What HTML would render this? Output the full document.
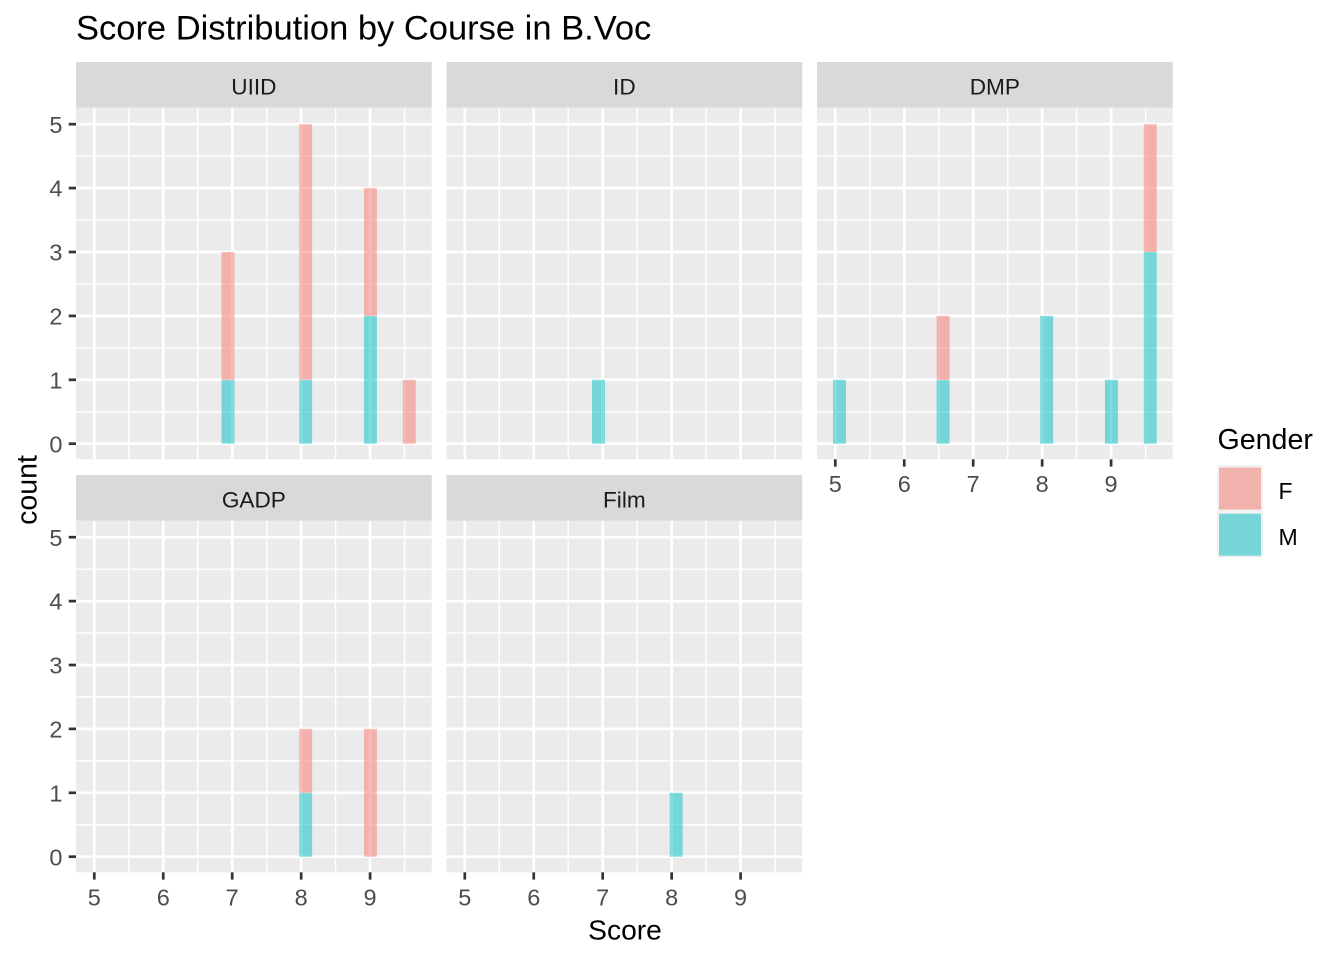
<!DOCTYPE html>
<html>
<head>
<meta charset="utf-8">
<style>
  html, body { margin:0; padding:0; background:#ffffff; }
  svg { display:block; font-family:"Liberation Sans", Arial, sans-serif; }
</style>
</head>
<body>
<svg width="1344" height="960" viewBox="0 0 1344 960" xmlns="http://www.w3.org/2000/svg">
  <rect x="0" y="0" width="1344" height="960" fill="#ffffff"/>
  <defs>
    <g id="panelbg">
      <rect x="0" y="0" width="355.7" height="351.6" fill="#EBEBEB"/>
      <g stroke="#ffffff" stroke-width="1.4">
        <line x1="52.8" y1="0" x2="52.8" y2="351.6"/>
        <line x1="121.7" y1="0" x2="121.7" y2="351.6"/>
        <line x1="190.7" y1="0" x2="190.7" y2="351.6"/>
        <line x1="259.6" y1="0" x2="259.6" y2="351.6"/>
        <line x1="328.6" y1="0" x2="328.6" y2="351.6"/>
        <line x1="0" y1="304.05" x2="355.7" y2="304.05"/>
        <line x1="0" y1="240.15" x2="355.7" y2="240.15"/>
        <line x1="0" y1="176.25" x2="355.7" y2="176.25"/>
        <line x1="0" y1="112.35" x2="355.7" y2="112.35"/>
        <line x1="0" y1="48.45" x2="355.7" y2="48.45"/>
      </g>
      <g stroke="#ffffff" stroke-width="2.7">
        <line x1="18.3" y1="0" x2="18.3" y2="351.6"/>
        <line x1="87.25" y1="0" x2="87.25" y2="351.6"/>
        <line x1="156.2" y1="0" x2="156.2" y2="351.6"/>
        <line x1="225.15" y1="0" x2="225.15" y2="351.6"/>
        <line x1="294.1" y1="0" x2="294.1" y2="351.6"/>
        <line x1="0" y1="336" x2="355.7" y2="336"/>
        <line x1="0" y1="272.1" x2="355.7" y2="272.1"/>
        <line x1="0" y1="208.2" x2="355.7" y2="208.2"/>
        <line x1="0" y1="144.3" x2="355.7" y2="144.3"/>
        <line x1="0" y1="80.4" x2="355.7" y2="80.4"/>
        <line x1="0" y1="16.5" x2="355.7" y2="16.5"/>
      </g>
      <rect x="0" y="-45.7" width="355.7" height="45.7" fill="#D9D9D9"/>
    </g>
    <g id="yticks" stroke="#333333" stroke-width="2.7">
      <line x1="-7.3" y1="336" x2="0" y2="336"/>
      <line x1="-7.3" y1="272.1" x2="0" y2="272.1"/>
      <line x1="-7.3" y1="208.2" x2="0" y2="208.2"/>
      <line x1="-7.3" y1="144.3" x2="0" y2="144.3"/>
      <line x1="-7.3" y1="80.4" x2="0" y2="80.4"/>
      <line x1="-7.3" y1="16.5" x2="0" y2="16.5"/>
    </g>
    <g id="xticks" stroke="#333333" stroke-width="2.7">
      <line x1="18.3" y1="351.6" x2="18.3" y2="358.9"/>
      <line x1="87.25" y1="351.6" x2="87.25" y2="358.9"/>
      <line x1="156.2" y1="351.6" x2="156.2" y2="358.9"/>
      <line x1="225.15" y1="351.6" x2="225.15" y2="358.9"/>
      <line x1="294.1" y1="351.6" x2="294.1" y2="358.9"/>
    </g>
  </defs>

  <!-- Title -->
  <text x="76" y="39.5" font-size="34.5" fill="#000000">Score Distribution by Course in B.Voc</text>

  <!-- Panel UIID -->
  <g transform="translate(76,107.7)">
    <use href="#panelbg"/>
    <text x="177.85" y="-13.4" font-size="22.6" fill="#1A1A1A" text-anchor="middle">UIID</text>
    <g opacity="0.5">
      <rect x="145.5" y="272.1" width="12.95" height="63.9" fill="#00BFC4"/>
      <rect x="145.5" y="144.3" width="12.95" height="127.8" fill="#F8766D"/>
      <rect x="223.2" y="272.1" width="12.95" height="63.9" fill="#00BFC4"/>
      <rect x="223.2" y="16.5" width="12.95" height="255.6" fill="#F8766D"/>
      <rect x="287.95" y="208.2" width="12.95" height="127.8" fill="#00BFC4"/>
      <rect x="287.95" y="80.4" width="12.95" height="127.8" fill="#F8766D"/>
      <rect x="326.8" y="272.1" width="12.95" height="63.9" fill="#F8766D"/>
    </g>
    <use href="#yticks"/>
    <g font-size="23.5" fill="#4D4D4D" text-anchor="end">
      <text x="-13.5" y="344.6">0</text>
      <text x="-13.5" y="280.7">1</text>
      <text x="-13.5" y="216.8">2</text>
      <text x="-13.5" y="152.9">3</text>
      <text x="-13.5" y="89">4</text>
      <text x="-13.5" y="25.1">5</text>
    </g>
  </g>

  <!-- Panel ID -->
  <g transform="translate(446.5,107.7)">
    <use href="#panelbg"/>
    <text x="177.85" y="-13.4" font-size="22.6" fill="#1A1A1A" text-anchor="middle">ID</text>
    <g opacity="0.5">
      <rect x="145.5" y="272.1" width="12.95" height="63.9" fill="#00BFC4"/>
    </g>
  </g>

  <!-- Panel DMP -->
  <g transform="translate(817,107.7)">
    <use href="#panelbg"/>
    <text x="177.85" y="-13.4" font-size="22.6" fill="#1A1A1A" text-anchor="middle">DMP</text>
    <g opacity="0.5">
      <rect x="16" y="272.1" width="12.95" height="63.9" fill="#00BFC4"/>
      <rect x="119.6" y="272.1" width="12.95" height="63.9" fill="#00BFC4"/>
      <rect x="119.6" y="208.2" width="12.95" height="63.9" fill="#F8766D"/>
      <rect x="223.2" y="208.2" width="12.95" height="127.8" fill="#00BFC4"/>
      <rect x="287.95" y="272.1" width="12.95" height="63.9" fill="#00BFC4"/>
      <rect x="326.8" y="144.3" width="12.95" height="191.7" fill="#00BFC4"/>
      <rect x="326.8" y="16.5" width="12.95" height="127.8" fill="#F8766D"/>
    </g>
    <use href="#xticks"/>
    <g font-size="23.5" fill="#4D4D4D" text-anchor="middle">
      <text x="18.3" y="384.5">5</text>
      <text x="87.25" y="384.5">6</text>
      <text x="156.2" y="384.5">7</text>
      <text x="225.15" y="384.5">8</text>
      <text x="294.1" y="384.5">9</text>
    </g>
  </g>

  <!-- Panel GADP -->
  <g transform="translate(76,520.7)">
    <use href="#panelbg"/>
    <text x="177.85" y="-13.4" font-size="22.6" fill="#1A1A1A" text-anchor="middle">GADP</text>
    <g opacity="0.5">
      <rect x="223.2" y="272.1" width="12.95" height="63.9" fill="#00BFC4"/>
      <rect x="223.2" y="208.2" width="12.95" height="63.9" fill="#F8766D"/>
      <rect x="287.95" y="208.2" width="12.95" height="127.8" fill="#F8766D"/>
    </g>
    <use href="#yticks"/>
    <g font-size="23.5" fill="#4D4D4D" text-anchor="end">
      <text x="-13.5" y="344.6">0</text>
      <text x="-13.5" y="280.7">1</text>
      <text x="-13.5" y="216.8">2</text>
      <text x="-13.5" y="152.9">3</text>
      <text x="-13.5" y="89">4</text>
      <text x="-13.5" y="25.1">5</text>
    </g>
    <use href="#xticks"/>
    <g font-size="23.5" fill="#4D4D4D" text-anchor="middle">
      <text x="18.3" y="385">5</text>
      <text x="87.25" y="385">6</text>
      <text x="156.2" y="385">7</text>
      <text x="225.15" y="385">8</text>
      <text x="294.1" y="385">9</text>
    </g>
  </g>

  <!-- Panel Film -->
  <g transform="translate(446.5,520.7)">
    <use href="#panelbg"/>
    <text x="177.85" y="-13.4" font-size="22.6" fill="#1A1A1A" text-anchor="middle">Film</text>
    <g opacity="0.5">
      <rect x="223.2" y="272.1" width="12.95" height="63.9" fill="#00BFC4"/>
    </g>
    <use href="#xticks"/>
    <g font-size="23.5" fill="#4D4D4D" text-anchor="middle">
      <text x="18.3" y="385">5</text>
      <text x="87.25" y="385">6</text>
      <text x="156.2" y="385">7</text>
      <text x="225.15" y="385">8</text>
      <text x="294.1" y="385">9</text>
    </g>
  </g>

  <!-- Axis titles -->
  <text x="625" y="939.3" font-size="28.2" fill="#000000" text-anchor="middle">Score</text>
  <text transform="translate(36.5,490) rotate(-90)" font-size="28.5" fill="#000000" text-anchor="middle">count</text>

  <!-- Legend -->
  <text x="1217.5" y="449" font-size="28.6" fill="#000000">Gender</text>
  <rect x="1217" y="465" width="46" height="92.5" fill="#F2F2F2"/>
  <rect x="1219" y="467.5" width="42" height="42" fill="#F1B1AC"/>
  <rect x="1219" y="513.7" width="42" height="42" fill="#77D6D8"/>
  <text x="1278.5" y="499" font-size="23" fill="#000000">F</text>
  <text x="1278.5" y="545" font-size="23" fill="#000000">M</text>
</svg>
</body>
</html>
